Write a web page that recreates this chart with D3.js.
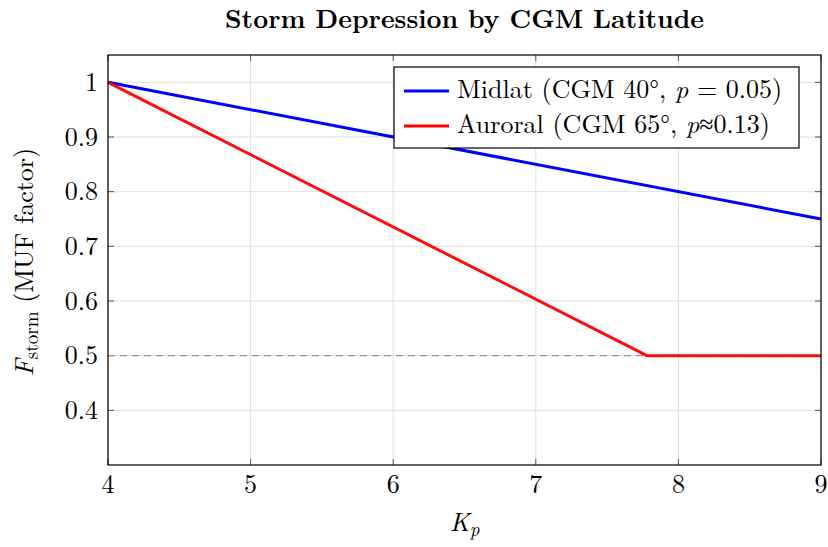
<!DOCTYPE html>
<html>
<head>
<meta charset="utf-8">
<script src="https://cdn.jsdelivr.net/npm/d3@7"></script>
<style>
  body { margin: 0; background: #fff; }
  text { font-family: "Latin Modern Roman", "Liberation Serif", serif; fill: #000; }
  .tick-label { font-size: 26px; }
  .legend-text { font-size: 26px; }
  .axis-label { font-size: 26px; }
  .chart-title { font-size: 26px; font-weight: bold; }
</style>
</head>
<body>
<svg id="chart" width="828" height="547"></svg>
<script>
const kp = [4, 5, 6, 7, 8, 9];
const yTicks = [0.4, 0.5, 0.6, 0.7, 0.8, 0.9, 1];

const midlat = [
  { kp: 4, f: 1.0 },
  { kp: 9, f: 0.75 }
];
const auroral = [
  { kp: 4, f: 1.0 },
  { kp: 7.78, f: 0.5 },
  { kp: 9, f: 0.5 }
];
const floorValue = 0.5;

const svg = d3.select("#chart");
const margin = { top: 55, right: 7, bottom: 82, left: 108 };
const width = +svg.attr("width") - margin.left - margin.right;
const height = +svg.attr("height") - margin.top - margin.bottom;

const g = svg.append("g")
  .attr("transform", `translate(${margin.left},${margin.top})`);

const x = d3.scaleLinear().domain([4, 9]).range([0, width]);
const y = d3.scaleLinear().domain([0.3, 1.05]).range([height, 0]);

// grid
g.selectAll(".vgrid").data(kp).enter().append("line")
  .attr("x1", d => x(d)).attr("x2", d => x(d))
  .attr("y1", 0).attr("y2", height)
  .attr("stroke", "#e0e0e0").attr("stroke-width", 1);
g.selectAll(".hgrid").data(yTicks).enter().append("line")
  .attr("x1", 0).attr("x2", width)
  .attr("y1", d => y(d)).attr("y2", d => y(d))
  .attr("stroke", "#e0e0e0").attr("stroke-width", 1);

// inner ticks on all four sides
const tl = 6;
kp.forEach(d => {
  g.append("line").attr("x1", x(d)).attr("x2", x(d)).attr("y1", height).attr("y2", height - tl)
    .attr("stroke", "#555");
  g.append("line").attr("x1", x(d)).attr("x2", x(d)).attr("y1", 0).attr("y2", tl)
    .attr("stroke", "#555");
});
yTicks.forEach(d => {
  g.append("line").attr("x1", 0).attr("x2", tl).attr("y1", y(d)).attr("y2", y(d))
    .attr("stroke", "#555");
  g.append("line").attr("x1", width).attr("x2", width - tl).attr("y1", y(d)).attr("y2", y(d))
    .attr("stroke", "#555");
});

// tick labels
g.selectAll(".xl").data(kp).enter().append("text")
  .attr("class", "tick-label")
  .attr("x", d => x(d)).attr("y", height + 28)
  .attr("text-anchor", "middle")
  .text(d => d);
g.selectAll(".yl").data(yTicks).enter().append("text")
  .attr("class", "tick-label")
  .attr("x", -10).attr("y", d => y(d) + 8.5)
  .attr("text-anchor", "end")
  .text(d => d);

// floor dashed line
g.append("line")
  .attr("x1", 0).attr("x2", width)
  .attr("y1", y(floorValue)).attr("y2", y(floorValue))
  .attr("stroke", "#999").attr("stroke-width", 1.2)
  .attr("stroke-dasharray", "7,5");

const line = d3.line().x(d => x(d.kp)).y(d => y(d.f));

g.append("path").datum(midlat)
  .attr("d", line).attr("fill", "none")
  .attr("stroke", "#0000ff").attr("stroke-width", 3);
g.append("path").datum(auroral)
  .attr("d", line).attr("fill", "none")
  .attr("stroke", "#ff0000").attr("stroke-width", 3)
  .attr("stroke-opacity", 0.95);

// frame
g.append("rect")
  .attr("width", width).attr("height", height)
  .attr("fill", "none").attr("stroke", "#000").attr("stroke-width", 1.2);

// legend
const legend = svg.append("g").attr("transform", "translate(394,67)");
legend.append("rect")
  .attr("width", 405).attr("height", 81)
  .attr("fill", "#fff").attr("stroke", "#000").attr("stroke-width", 1.2);
const entries = [
  { color: "#0000ff", name: "Midlat (CGM 40°, ", p: "p", rest: " = 0.05)" },
  { color: "#ff0000", name: "Auroral (CGM 65°, ", p: "p", rest: "≈0.13)" }
];
entries.forEach((e, i) => {
  const cy = 24 + i * 35;
  legend.append("line")
    .attr("x1", 10).attr("x2", 55).attr("y1", cy).attr("y2", cy)
    .attr("stroke", e.color).attr("stroke-width", 3);
  const t = legend.append("text").attr("class", "legend-text")
    .attr("x", 63).attr("y", cy + 7);
  t.append("tspan").text(e.name);
  t.append("tspan").attr("font-style", "italic").text(e.p);
  t.append("tspan").text(e.rest);
});

// title and axis labels
svg.append("text")
  .attr("class", "chart-title")
  .attr("x", margin.left + width / 2).attr("y", 28)
  .attr("text-anchor", "middle")
  .text("Storm Depression by CGM Latitude");

svg.append("text")
  .attr("class", "axis-label")
  .attr("x", margin.left + width / 2).attr("y", 531)
  .attr("text-anchor", "middle")
  .call(t => {
    t.append("tspan").attr("font-style", "italic").text("K");
    t.append("tspan").attr("font-style", "italic").attr("font-size", "19px").attr("dy", 5).text("p");
  });

svg.append("text")
  .attr("class", "axis-label")
  .attr("transform", `translate(33,262) rotate(-90)`)
  .attr("text-anchor", "middle")
  .call(t => {
    t.append("tspan").attr("font-style", "italic").text("F");
    t.append("tspan").attr("font-size", "19px").attr("dy", 5).text("storm");
    t.append("tspan").attr("dy", -5).text(" (MUF factor)");
  });
</script>
</body>
</html>
